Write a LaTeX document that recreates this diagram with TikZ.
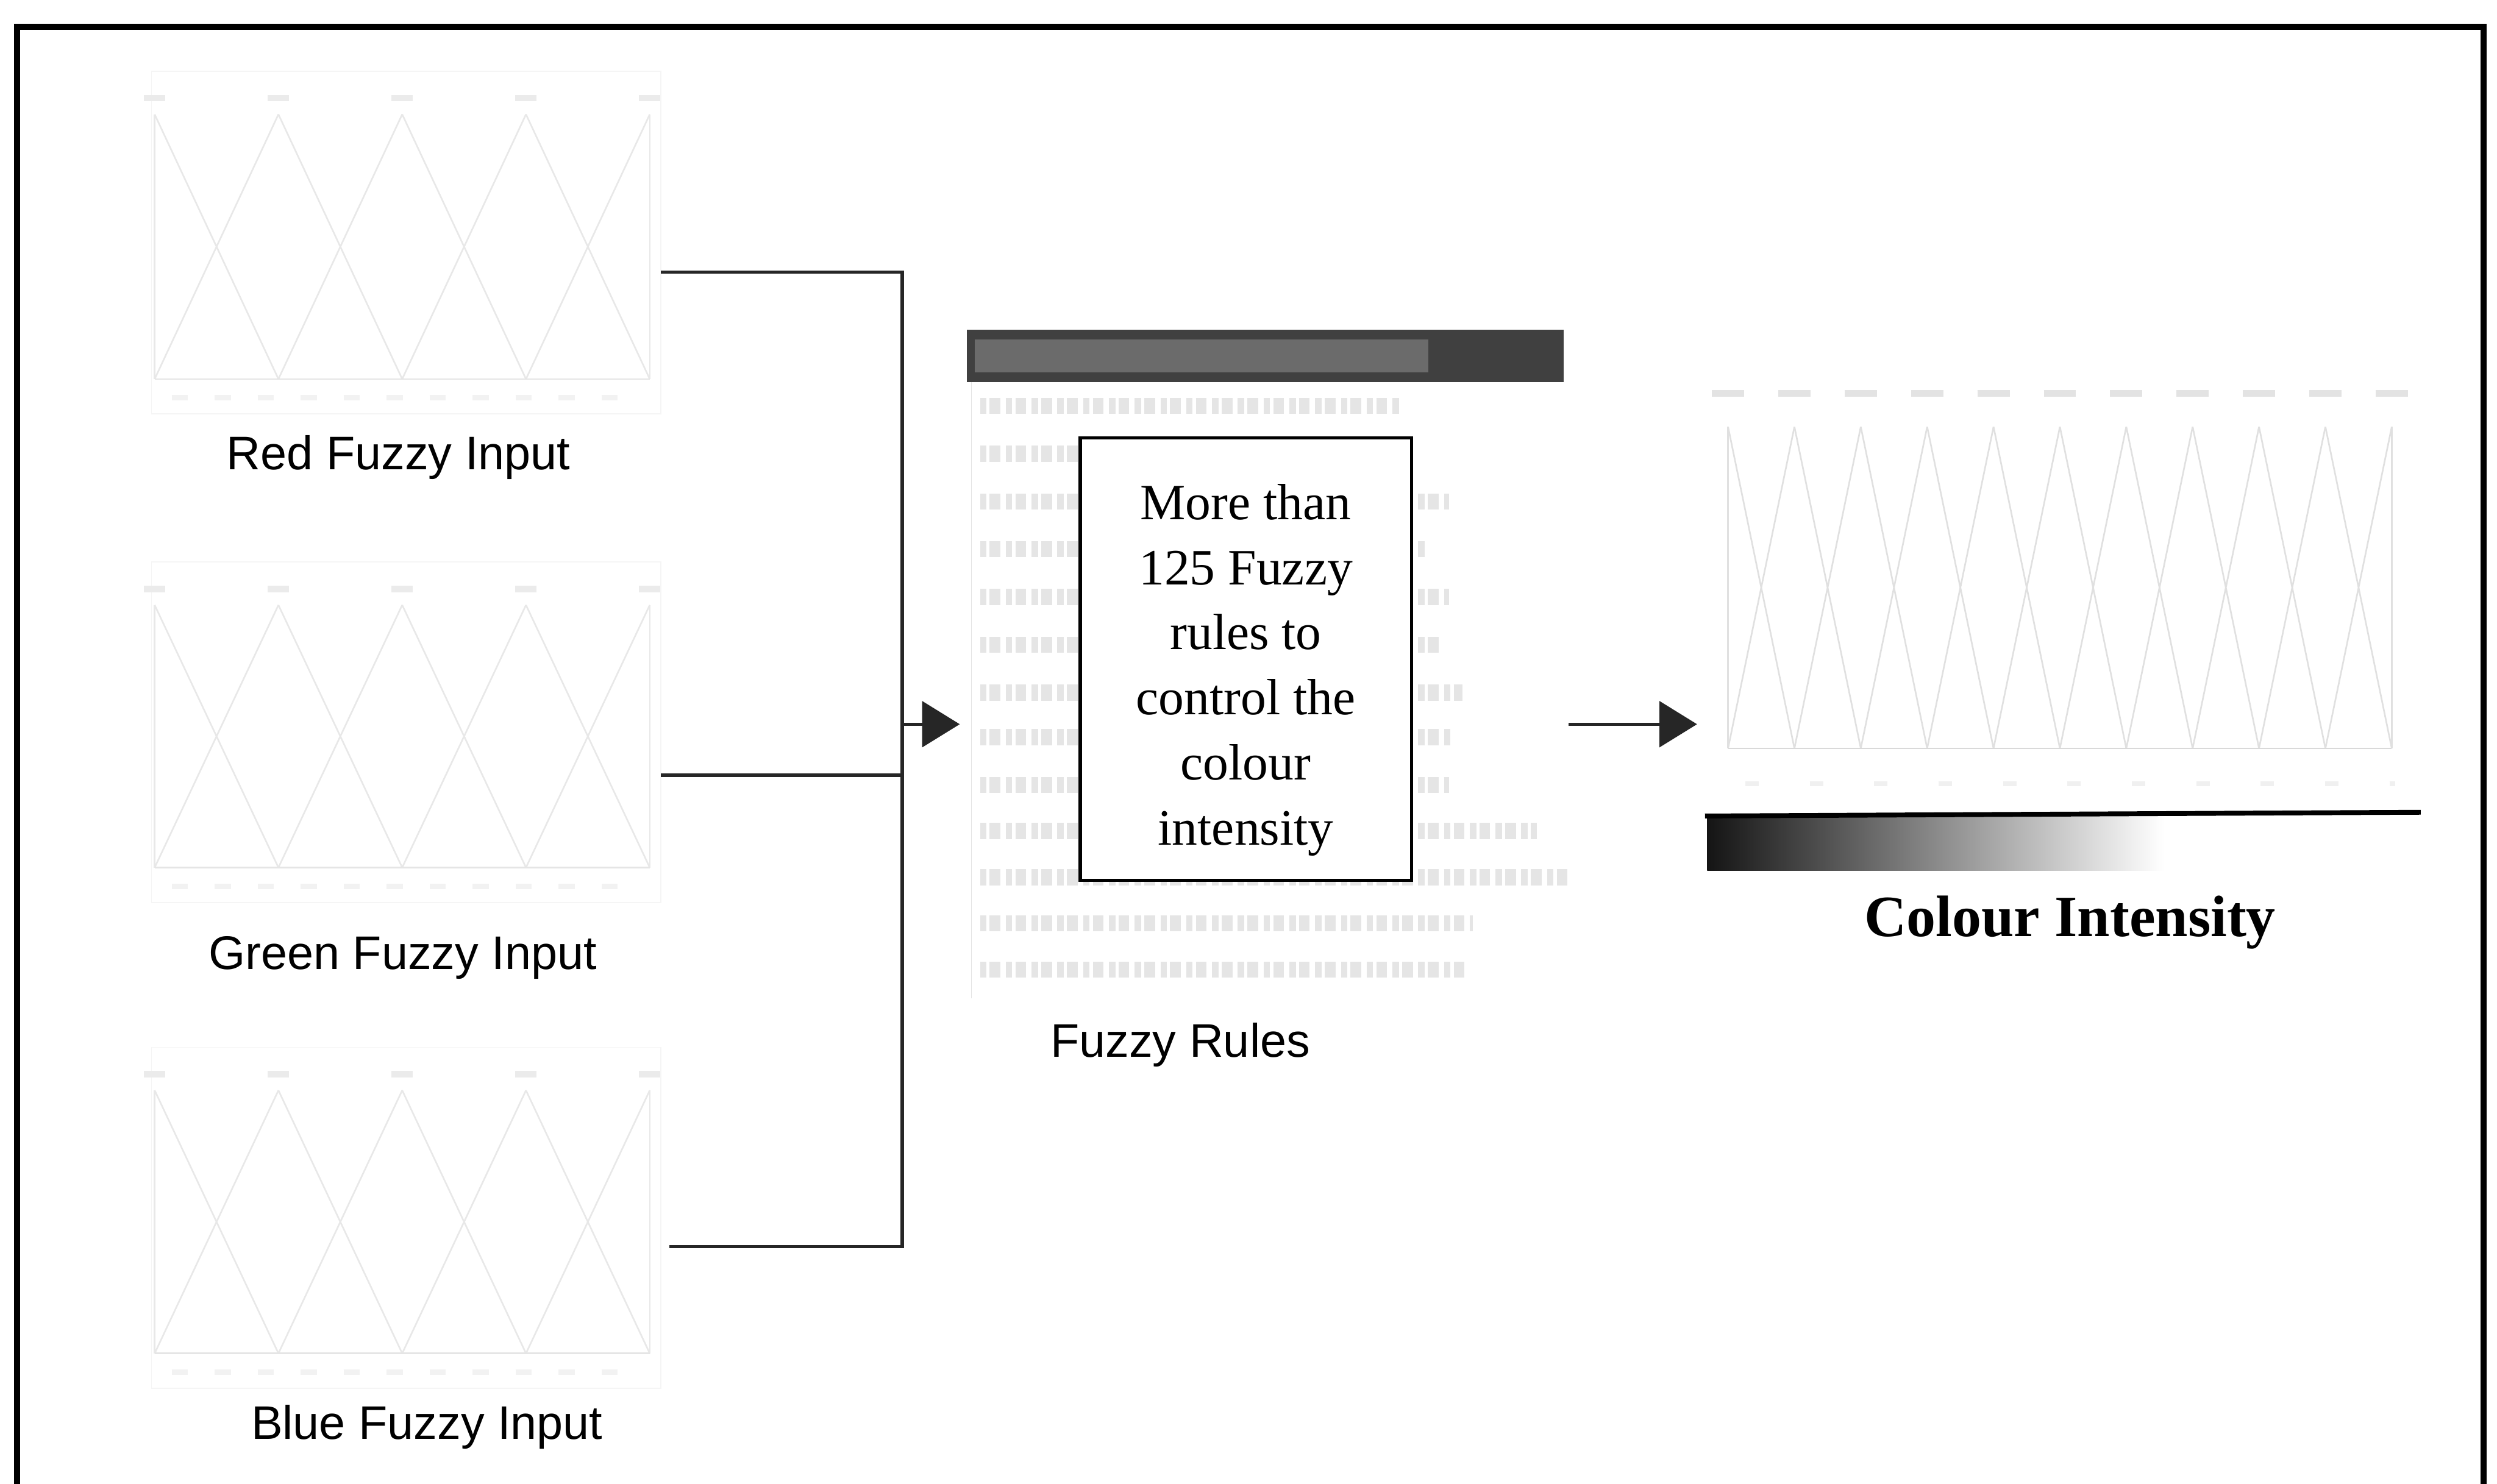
\documentclass[tikz,border=0pt]{standalone}
\usepackage{fontspec}
\setmainfont{Liberation Serif}
\setsansfont{Liberation Sans}
\usetikzlibrary{calc, arrows.meta}

\begin{document}
\begin{tikzpicture}[
    wire/.style={line width=0.06cm, black!85},
    feed/.style={wire, -{Triangle[length=0.7cm, width=0.85cm]}},
    mf/.style={gray!18, line width=0.03cm},
    smudge/.style={gray!16, line width=0.12cm},
    caption/.style={font=\sffamily\fontsize{25}{30}\selectfont, anchor=base},
    ruleline/.style={gray!20, line width=0.3cm, dash pattern=on 0.12cm off 0.06cm on 0.2cm off 0.1cm}
  ]
  \clip (0,0) rectangle (46.5,-27.64);
  \fill[white] (0,0) rectangle (46.5,-27.64);
  % frame, bottom edge lies below the page
  \draw[line width=0.12cm] (0.32,-28) -- (0.32,-0.5) -- (46.25,-0.5) -- (46.25,-28);

  % input membership plots (red, green, blue)
  \foreach \ya/\yb in {-2.13/-7.06, -11.27/-16.16, -20.31/-25.21} {
    \draw[gray!8, line width=0.02cm] (2.82,\ya+0.8) rectangle (12.31,\yb-0.65);
    \foreach \i in {0,...,4}
      \draw[smudge] ({2.88+2.305*\i-0.2},\ya+0.3) -- ++(0.4,0);
    \foreach \i [evaluate=\i as \x using 2.88+2.305*\i] in {0,...,3}
      \draw[mf] (\x,\ya) -- (\x+2.305,\yb) (\x,\yb) -- (\x+2.305,\ya);
    \draw[mf] (2.88,\ya) -- (2.88,\yb) (12.10,\ya) -- (12.10,\yb);
    \draw[gray!20, line width=0.03cm] (2.88,\yb) -- (12.10,\yb);
    \draw[gray!10, line width=0.1cm, dash pattern=on 0.3cm off 0.5cm] (3.2,\yb-0.35) -- (12.0,\yb-0.35);
  }
  \node[caption] (redlbl) at (7.42,-8.75) {Red Fuzzy Input};
  \node[caption] (greenlbl) at (7.50,-18.06) {Green Fuzzy Input};
  \node[caption] (bluelbl) at (7.95,-26.81) {Blue Fuzzy Input};

  % rule list window
  \node[minimum width=11.2cm, minimum height=12.4cm, inner sep=0] (rules) at (23.6,-12.33) {};
  \fill[black!75] (18.0,-6.14) rectangle (29.12,-7.12);
  \fill[black!58] (18.15,-6.32) rectangle (26.6,-6.94);
  \draw[gray!22, line width=0.02cm] (18.09,-7.12) -- (18.09,-18.6);
  \foreach \y/\r in {7.56/26.10, 8.45/26.40, 9.34/26.99, 10.23/26.54, 11.12/26.99,
                     12.01/26.84, 12.90/27.23, 13.73/27.05, 14.62/26.99, 15.48/28.62,
                     16.34/29.21, 17.20/27.43, 18.06/27.28}
    \draw[ruleline] (18.25,-\y) -- (\r,-\y);
  \node[draw, line width=0.06cm, fill=white, minimum width=6.17cm, minimum height=8.24cm] (rulebox) at (23.2,-12.28) {};
  \node[align=center, font=\fontsize{27}{34.5}\selectfont] (ruletext) at ([yshift=-0.2cm]rulebox.center)
        {More than\\125 Fuzzy\\rules to\\control the\\colour\\intensity};
  \node[caption] (rulelbl) at (21.98,-19.69) {Fuzzy Rules};

  % output membership plot
  \node[minimum width=13.3cm, minimum height=7.3cm, inner sep=0] (outmf) at (38.43,-10.65) {};
  \foreach \i in {0,...,10}
    \draw[smudge, gray!22] ({32.18+1.236*\i-0.3},-7.33) -- ++(0.6,0);
  \foreach \i [evaluate=\i as \x using 32.18+1.236*\i] in {0,...,9}
    \draw[mf, gray!24] (\x,-7.95) -- (\x+1.236,-13.94) (\x,-13.94) -- (\x+1.236,-7.95);
  \draw[mf, gray!24] (32.18,-7.95) -- (32.18,-13.94) (44.54,-7.95) -- (44.54,-13.94);
  \draw[gray!30, line width=0.03cm] (32.18,-13.94) -- (44.54,-13.94);
  \draw[gray!12, line width=0.1cm, dash pattern=on 0.25cm off 0.95cm] (32.5,-14.6) -- (44.6,-14.6);

  % intensity bar
  \shade[left color=black!92, right color=white] (31.79,-15.18) rectangle (40.3,-16.22);
  \draw[line width=0.09cm] (31.75,-15.2) -- (45.08,-15.13);
  \node[font=\bfseries\fontsize{31}{36}\selectfont, anchor=base] (cilbl) at (38.55,-17.44) {Colour Intensity};

  % connectors
  \coordinate (bus) at (16.8,-13.49);
  \coordinate (rtap) at (12.31,-5.07);
  \coordinate (gtap) at (12.31,-14.44);
  \coordinate (btap) at (12.46,-23.22);
  \draw[wire] (rtap) -- (rtap -| bus) -- (btap -| bus) -- (btap);
  \draw[wire] (gtap) -- (gtap -| bus);
  \draw[feed, shorten >=0.12cm] (bus) -- (bus -| rules.west);
  \draw[feed, shorten >=0.17cm] (bus -| rules.east) -- (bus -| outmf.west);
\end{tikzpicture}
\end{document}
